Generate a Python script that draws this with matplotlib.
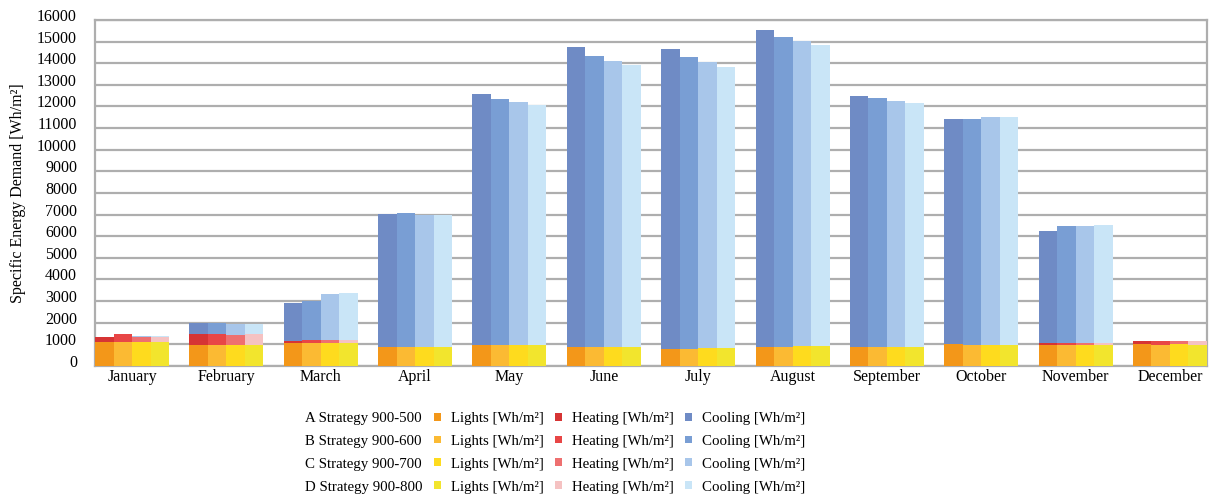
import numpy as np
import matplotlib
matplotlib.use('Agg')
import matplotlib.pyplot as plt
from matplotlib.patches import Rectangle
from matplotlib.transforms import ScaledTranslation

plt.rcParams['font.family'] = ['Liberation Serif', 'DejaVu Serif']

# Données (Wh/m² par mois)
months = ['January', 'February', 'March', 'April', 'May', 'June', 'July',
          'August', 'September', 'October', 'November', 'December']
strategies = ['A Strategy 900-500', 'B Strategy 900-600',
              'C Strategy 900-700', 'D Strategy 900-800']

lights_a = [1110, 970, 1070, 880, 950, 880, 790, 880, 880, 1020, 970, 1020]
lights_b = [1110, 970, 1070, 880, 950, 880, 790, 880, 880, 970, 970, 970]
lights_c = [1110, 970, 1070, 880, 950, 880, 850, 925, 880, 970, 970, 1020]
lights_d = [1110, 970, 1070, 880, 950, 880, 850, 925, 880, 970, 970, 970]

heating_a = [230, 510, 90, 0, 0, 0, 0, 0, 0, 0, 90, 140]
heating_b = [385, 510, 135, 0, 0, 0, 0, 0, 0, 0, 90, 190]
heating_c = [230, 480, 135, 0, 0, 0, 0, 0, 0, 0, 90, 140]
heating_d = [230, 510, 135, 0, 0, 0, 0, 0, 0, 0, 90, 190]

cooling_a = [0, 510, 1770, 6160, 11630, 13870, 13870, 14660, 11600, 10400, 5180, 0]
cooling_b = [0, 510, 1815, 6210, 11400, 13450, 13500, 14330, 11510, 10450, 5410, 0]
cooling_c = [45, 495, 2140, 6120, 11260, 13220, 13210, 14100, 11370, 10540, 5410, 0]
cooling_d = [45, 465, 2185, 6100, 11120, 13040, 12980, 13920, 11280, 10540, 5460, 0]

lights = [lights_a, lights_b, lights_c, lights_d]
heating = [heating_a, heating_b, heating_c, heating_d]
cooling = [cooling_a, cooling_b, cooling_c, cooling_d]

lights_colors = ['#F39719', '#FBBA33', '#FEDB1E', '#F2E52D']
heating_colors = ['#D63434', '#E84646', '#EE7070', '#F5C2C2']
cooling_colors = ['#6F8BC5', '#799ED4', '#A8C6EA', '#C9E5F7']

grid_color = '#AEAEAE'
fs = 11.5

fig = plt.figure(figsize=(12.14, 4.97), dpi=100)
ax = fig.add_axes([0.0783, 0.2636, 0.9159, 0.6962])

x = np.arange(len(months))
group_w = 0.784
bw = group_w / 4

handles = {'L': [], 'H': [], 'C': []}
for k in range(4):
    pos = x + (k - 1.5) * bw
    l = np.array(lights[k])
    h = np.array(heating[k])
    c = np.array(cooling[k])
    b1 = ax.bar(pos, l, bw, color=lights_colors[k], zorder=3)
    b2 = ax.bar(pos, h, bw, bottom=l, color=heating_colors[k], zorder=3)
    b3 = ax.bar(pos, c, bw, bottom=l + h, color=cooling_colors[k], zorder=3)
    handles['L'].append(b1)
    handles['H'].append(b2)
    handles['C'].append(b3)

ax.set_xlim(-group_w / 2, len(months) - 1 + group_w / 2)
ax.set_ylim(0, 16000)
ax.set_yticks(np.arange(0, 16001, 1000))
ax.set_xticks(x)
ax.set_xticklabels(months, fontsize=fs)
ax.tick_params(axis='both', length=0, labelsize=fs)
ax.tick_params(axis='y', pad=13)
ax.tick_params(axis='x', pad=2.5)
ax.yaxis.grid(True, color=grid_color, linewidth=1.6, zorder=0)
ax.set_axisbelow(True)
for sp in ax.spines.values():
    sp.set_color(grid_color)
    sp.set_linewidth(1.6)

# les étiquettes de l'axe y sont un peu au-dessus des lignes
off = ScaledTranslation(0, 5 / 100, fig.dpi_scale_trans)
for t in ax.yaxis.get_major_ticks():
    t.label1.set_transform(t.label1.get_transform() + off)

ax.set_ylabel('Specific Energy Demand [Wh/m²]', fontsize=fs)
ax.yaxis.set_label_coords(-0.062, 0.5)

# Légende : 4 lignes (stratégies) x 3 colonnes (lumière, chauffage, refroidissement)
blank = [Rectangle((0, 0), 1, 1, alpha=0) for _ in range(4)]
leg_handles = blank + handles['L'] + handles['H'] + handles['C']
leg_labels = strategies + ['Lights [Wh/m²]'] * 4 + ['Heating [Wh/m²]'] * 4 + ['Cooling [Wh/m²]'] * 4
fig.legend(leg_handles, leg_labels, ncol=4, loc='center',
           bbox_to_anchor=(0.4504, 0.089), frameon=False, fontsize=10.7,
           handlelength=0.45, handleheight=0.45, handletextpad=0.65,
           columnspacing=0.8, labelspacing=0.67, borderpad=0.2)

fig.savefig('out.png', dpi=100)
